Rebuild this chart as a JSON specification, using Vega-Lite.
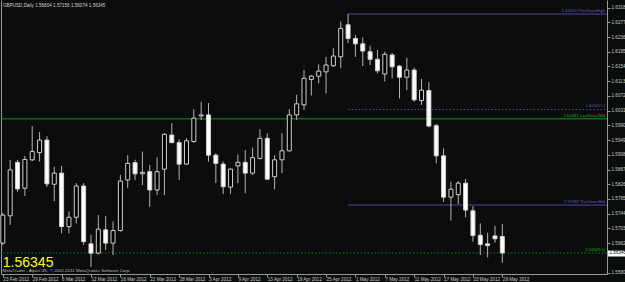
{
  "$schema": "https://vega.github.io/schema/vega-lite/v6.json",
  "width": 606,
  "height": 274,
  "autosize": {"type": "none"},
  "padding": {"left": 1, "top": 0, "right": 18, "bottom": 8},
  "background": "#0b0d0d",
  "title": {"text": "GBPUSD,Daily 1.56804 1.57156 1.56074 1.56345", "anchor": "start", "frame": "group", "orient": "top", "offset": -8, "dx": 2, "fontSize": 4.6, "fontWeight": "normal", "font": "Liberation Sans", "color": "#d0d0d0"},
  "config": {
    "view": {"stroke": null},
    "axis": {"grid": false, "labelFont": "Liberation Sans", "titleFont": "Liberation Sans", "domainColor": "#999999", "tickColor": "#999999", "labelColor": "#c8c8c8"},
    "text": {"font": "Liberation Sans"}
  },
  "datasets": {
    "candles": [
      {"date": "23 Feb 2012", "o": 1.5662, "h": 1.5746, "l": 1.5657, "c": 1.5740},
      {"date": "24 Feb 2012", "o": 1.5738, "h": 1.5894, "l": 1.5713, "c": 1.5866},
      {"date": "27 Feb 2012", "o": 1.5887, "h": 1.5894, "l": 1.5805, "c": 1.5813},
      {"date": "28 Feb 2012", "o": 1.5815, "h": 1.5905, "l": 1.5793, "c": 1.5895},
      {"date": "29 Feb 2012", "o": 1.5894, "h": 1.5988, "l": 1.5890, "c": 1.5917},
      {"date": "1 Mar 2012", "o": 1.5914, "h": 1.5971, "l": 1.5889, "c": 1.5949},
      {"date": "2 Mar 2012", "o": 1.5949, "h": 1.5960, "l": 1.5818, "c": 1.5827},
      {"date": "5 Mar 2012", "o": 1.5826, "h": 1.5875, "l": 1.5779, "c": 1.5857},
      {"date": "6 Mar 2012", "o": 1.5857, "h": 1.5877, "l": 1.5689, "c": 1.5708},
      {"date": "7 Mar 2012", "o": 1.5708, "h": 1.5750, "l": 1.5689, "c": 1.5734},
      {"date": "8 Mar 2012", "o": 1.5734, "h": 1.5829, "l": 1.5717, "c": 1.5821},
      {"date": "9 Mar 2012", "o": 1.5821, "h": 1.5829, "l": 1.5657, "c": 1.5666},
      {"date": "12 Mar 2012", "o": 1.5660, "h": 1.5685, "l": 1.5596, "c": 1.5634},
      {"date": "13 Mar 2012", "o": 1.5634, "h": 1.5740, "l": 1.5631, "c": 1.5701},
      {"date": "14 Mar 2012", "o": 1.5699, "h": 1.5738, "l": 1.5643, "c": 1.5662},
      {"date": "15 Mar 2012", "o": 1.5662, "h": 1.5722, "l": 1.5629, "c": 1.5697},
      {"date": "16 Mar 2012", "o": 1.5697, "h": 1.5852, "l": 1.5694, "c": 1.5835},
      {"date": "19 Mar 2012", "o": 1.5838, "h": 1.5907, "l": 1.5815, "c": 1.5884},
      {"date": "20 Mar 2012", "o": 1.5886, "h": 1.5894, "l": 1.5838, "c": 1.5855},
      {"date": "21 Mar 2012", "o": 1.5855, "h": 1.5917, "l": 1.5824, "c": 1.5859},
      {"date": "22 Mar 2012", "o": 1.5861, "h": 1.5880, "l": 1.5763, "c": 1.5810},
      {"date": "23 Mar 2012", "o": 1.5810, "h": 1.5901, "l": 1.5796, "c": 1.5861},
      {"date": "26 Mar 2012", "o": 1.5868, "h": 1.5968, "l": 1.5796, "c": 1.5965},
      {"date": "27 Mar 2012", "o": 1.5963, "h": 1.5996, "l": 1.5940, "c": 1.5942},
      {"date": "28 Mar 2012", "o": 1.5942, "h": 1.5951, "l": 1.5838, "c": 1.5882},
      {"date": "29 Mar 2012", "o": 1.5882, "h": 1.5954, "l": 1.5880, "c": 1.5947},
      {"date": "30 Mar 2012", "o": 1.5945, "h": 1.6035, "l": 1.5942, "c": 1.6010},
      {"date": "2 Apr 2012", "o": 1.6016, "h": 1.6056, "l": 1.6005, "c": 1.6019},
      {"date": "3 Apr 2012", "o": 1.6019, "h": 1.6052, "l": 1.5889, "c": 1.5907},
      {"date": "4 Apr 2012", "o": 1.5907, "h": 1.5912, "l": 1.5829, "c": 1.5884},
      {"date": "5 Apr 2012", "o": 1.5882, "h": 1.5889, "l": 1.5799, "c": 1.5819},
      {"date": "6 Apr 2012", "o": 1.5818, "h": 1.5870, "l": 1.5799, "c": 1.5868},
      {"date": "9 Apr 2012", "o": 1.5877, "h": 1.5909, "l": 1.5829, "c": 1.5887},
      {"date": "10 Apr 2012", "o": 1.5887, "h": 1.5921, "l": 1.5801, "c": 1.5857},
      {"date": "11 Apr 2012", "o": 1.5857, "h": 1.5928, "l": 1.5852, "c": 1.5900},
      {"date": "12 Apr 2012", "o": 1.5898, "h": 1.5979, "l": 1.5895, "c": 1.5954},
      {"date": "13 Apr 2012", "o": 1.5954, "h": 1.5968, "l": 1.5838, "c": 1.5840},
      {"date": "16 Apr 2012", "o": 1.5847, "h": 1.5907, "l": 1.5812, "c": 1.5894},
      {"date": "17 Apr 2012", "o": 1.5894, "h": 1.5968, "l": 1.5857, "c": 1.5919},
      {"date": "18 Apr 2012", "o": 1.5919, "h": 1.6035, "l": 1.5917, "c": 1.6019},
      {"date": "19 Apr 2012", "o": 1.6019, "h": 1.6075, "l": 1.6005, "c": 1.6050},
      {"date": "20 Apr 2012", "o": 1.6047, "h": 1.6144, "l": 1.6033, "c": 1.6121},
      {"date": "23 Apr 2012", "o": 1.6118, "h": 1.6130, "l": 1.6073, "c": 1.6127},
      {"date": "24 Apr 2012", "o": 1.6127, "h": 1.6160, "l": 1.6107, "c": 1.6141},
      {"date": "25 Apr 2012", "o": 1.6139, "h": 1.6181, "l": 1.6079, "c": 1.6158},
      {"date": "26 Apr 2012", "o": 1.6156, "h": 1.6205, "l": 1.6153, "c": 1.6183},
      {"date": "27 Apr 2012", "o": 1.6181, "h": 1.6279, "l": 1.6149, "c": 1.6260},
      {"date": "30 Apr 2012", "o": 1.6270, "h": 1.6300, "l": 1.6219, "c": 1.6232},
      {"date": "1 May 2012", "o": 1.6232, "h": 1.6242, "l": 1.6181, "c": 1.6217},
      {"date": "2 May 2012", "o": 1.6217, "h": 1.6235, "l": 1.6155, "c": 1.6197},
      {"date": "3 May 2012", "o": 1.6195, "h": 1.6212, "l": 1.6158, "c": 1.6174},
      {"date": "4 May 2012", "o": 1.6174, "h": 1.6200, "l": 1.6135, "c": 1.6142},
      {"date": "7 May 2012", "o": 1.6133, "h": 1.6195, "l": 1.6112, "c": 1.6188},
      {"date": "8 May 2012", "o": 1.6186, "h": 1.6191, "l": 1.6121, "c": 1.6153},
      {"date": "9 May 2012", "o": 1.6155, "h": 1.6158, "l": 1.6065, "c": 1.6124},
      {"date": "10 May 2012", "o": 1.6124, "h": 1.6178, "l": 1.6088, "c": 1.6144},
      {"date": "11 May 2012", "o": 1.6144, "h": 1.6151, "l": 1.6056, "c": 1.6061},
      {"date": "14 May 2012", "o": 1.6059, "h": 1.6119, "l": 1.6047, "c": 1.6088},
      {"date": "15 May 2012", "o": 1.6087, "h": 1.6110, "l": 1.5985, "c": 1.5988},
      {"date": "16 May 2012", "o": 1.5989, "h": 1.5994, "l": 1.5884, "c": 1.5905},
      {"date": "17 May 2012", "o": 1.5905, "h": 1.5926, "l": 1.5777, "c": 1.5790},
      {"date": "18 May 2012", "o": 1.5790, "h": 1.5833, "l": 1.5725, "c": 1.5812},
      {"date": "21 May 2012", "o": 1.5797, "h": 1.5835, "l": 1.5771, "c": 1.5829},
      {"date": "22 May 2012", "o": 1.5829, "h": 1.5841, "l": 1.5734, "c": 1.5754},
      {"date": "23 May 2012", "o": 1.5752, "h": 1.5765, "l": 1.5666, "c": 1.5683},
      {"date": "24 May 2012", "o": 1.5684, "h": 1.5717, "l": 1.5629, "c": 1.5658},
      {"date": "25 May 2012", "o": 1.5660, "h": 1.5691, "l": 1.5622, "c": 1.5655},
      {"date": "28 May 2012", "o": 1.5682, "h": 1.5710, "l": 1.5663, "c": 1.5674},
      {"date": "29 May 2012", "o": 1.56804, "h": 1.57156, "l": 1.56074, "c": 1.56345}
    ],
    "purpleSolid": [
      {"price": 1.63001, "label": "1.63001 ThisYearsHigh"},
      {"price": 1.57682, "label": "1.57682 ThisYearsMid"}
    ],
    "purpleDotted": [
      {"price": 1.60342, "label": "1.60342 Q"}
    ],
    "greenSolid": [
      {"price": 1.60081, "label": "1.60081 LastYearsMid"}
    ],
    "greenDotted": [
      {"price": 1.56345, "label": "1.56345 Q"}
    ]
  },
  "resolve": {"axis": {"y": "independent"}},
  "layer": [
    {
      "data": {"name": "purpleSolid"},
      "mark": {"type": "rule", "color": "#55479c", "strokeWidth": 1},
      "encoding": {
        "x": {"datum": "30 Apr 2012", "type": "ordinal"},
        "x2": {"value": {"expr": "width"}},
        "y": {"field": "price", "type": "quantitative", "scale": {"domain": [1.5576, 1.63391], "nice": false, "zero": false}, "axis": null}
      }
    },
    {
      "data": {"name": "purpleDotted"},
      "mark": {"type": "rule", "color": "#55479c", "strokeWidth": 1, "strokeDash": [1.5, 2]},
      "encoding": {
        "x": {"datum": "30 Apr 2012", "type": "ordinal"},
        "x2": {"value": {"expr": "width"}},
        "y": {"field": "price", "type": "quantitative", "scale": {"domain": [1.5576, 1.63391], "nice": false, "zero": false}, "axis": null}
      }
    },
    {
      "data": {"name": "greenSolid"},
      "mark": {"type": "rule", "color": "#0f9a12", "strokeWidth": 1},
      "encoding": {
        "y": {"field": "price", "type": "quantitative", "scale": {"domain": [1.5576, 1.63391], "nice": false, "zero": false}, "axis": null}
      }
    },
    {
      "data": {"name": "greenDotted"},
      "mark": {"type": "rule", "color": "#0f8a12", "strokeWidth": 1, "strokeDash": [1.5, 2]},
      "encoding": {
        "y": {"field": "price", "type": "quantitative", "scale": {"domain": [1.5576, 1.63391], "nice": false, "zero": false},
          "axis": {"orient": "right", "values": [1.56345], "format": ".5f", "title": null, "domain": false, "tickColor": "#ffffff", "tickWidth": 6, "tickSize": 18, "labelColor": "#000000", "labelPadding": -16, "labelFontSize": 4.6, "labelAlign": "left", "labelBaseline": "middle"}}
      }
    },
    {
      "data": {"name": "candles"},
      "mark": {"type": "rule", "color": "#b4b4b4", "strokeWidth": 1},
      "encoding": {
        "x": {"field": "date", "type": "ordinal", "sort": null,
          "scale": {"type": "point", "padding": 0.25, "domain": ["23 Feb 2012","24 Feb 2012","27 Feb 2012","28 Feb 2012","29 Feb 2012","1 Mar 2012","2 Mar 2012","5 Mar 2012","6 Mar 2012","7 Mar 2012","8 Mar 2012","9 Mar 2012","12 Mar 2012","13 Mar 2012","14 Mar 2012","15 Mar 2012","16 Mar 2012","19 Mar 2012","20 Mar 2012","21 Mar 2012","22 Mar 2012","23 Mar 2012","26 Mar 2012","27 Mar 2012","28 Mar 2012","29 Mar 2012","30 Mar 2012","2 Apr 2012","3 Apr 2012","4 Apr 2012","5 Apr 2012","6 Apr 2012","9 Apr 2012","10 Apr 2012","11 Apr 2012","12 Apr 2012","13 Apr 2012","16 Apr 2012","17 Apr 2012","18 Apr 2012","19 Apr 2012","20 Apr 2012","23 Apr 2012","24 Apr 2012","25 Apr 2012","26 Apr 2012","27 Apr 2012","30 Apr 2012","1 May 2012","2 May 2012","3 May 2012","4 May 2012","7 May 2012","8 May 2012","9 May 2012","10 May 2012","11 May 2012","14 May 2012","15 May 2012","16 May 2012","17 May 2012","18 May 2012","21 May 2012","22 May 2012","23 May 2012","24 May 2012","25 May 2012","28 May 2012","29 May 2012","+1","+2","+3","+4","+5","+6","+7","+8","+9","+10","+11","+12","+13","+14"]},
          "axis": {"values": ["23 Feb 2012","29 Feb 2012","6 Mar 2012","12 Mar 2012","16 Mar 2012","22 Mar 2012","28 Mar 2012","3 Apr 2012","9 Apr 2012","13 Apr 2012","19 Apr 2012","25 Apr 2012","1 May 2012","7 May 2012","11 May 2012","17 May 2012","23 May 2012","29 May 2012"],
            "labelAngle": 0, "labelAlign": "left", "labelBaseline": "top", "labelDx": 2, "labelPadding": -1, "labelFontSize": 4.6, "labelOverlap": false, "labelFlush": false, "labelBound": false, "tickSize": 3,
            "title": "MetaTrader - Alpari UK, © 2001-2011 MetaQuotes Software Corp.", "titleAnchor": "start", "titleAlign": "left", "titleBaseline": "bottom", "titleX": 1, "titleY": -2, "titleFontSize": 4.4, "titleFontWeight": "normal", "titleColor": "#b8b8b8"}},
        "y": {"field": "h", "type": "quantitative", "scale": {"domain": [1.5576, 1.63391], "nice": false, "zero": false},
          "axis": {"orient": "right", "values": [1.6318, 1.6277, 1.6236, 1.6195, 1.6154, 1.6113, 1.6072, 1.6031, 1.599, 1.5949, 1.5908, 1.5867, 1.5826, 1.5785, 1.5744, 1.5703, 1.5662, 1.558], "format": ".5f", "title": null, "tickSize": 3, "labelPadding": 1, "labelFontSize": 4.6, "labelAlign": "left"}},
        "y2": {"field": "l"}
      }
    },
    {
      "data": {"name": "candles"},
      "mark": {"type": "bar", "width": 4, "stroke": "#d0d0d0", "strokeWidth": 1},
      "encoding": {
        "x": {"field": "date", "type": "ordinal", "sort": null},
        "y": {"field": "o", "type": "quantitative", "scale": {"domain": [1.5576, 1.63391], "nice": false, "zero": false},
          "axis": {"orient": "left", "labels": false, "ticks": false, "domain": true, "title": null}},
        "y2": {"field": "c"},
        "fill": {"condition": {"test": "datum.c < datum.o", "value": "#ffffff"}, "value": "#000000"}
      }
    },
    {
      "data": {"name": "purpleSolid"},
      "mark": {"type": "text", "align": "right", "baseline": "bottom", "dy": -1, "fontSize": 4.2, "color": "#6a5cc0"},
      "encoding": {
        "x": {"datum": "+14", "type": "ordinal"},
        "y": {"field": "price", "type": "quantitative", "scale": {"domain": [1.5576, 1.63391], "nice": false, "zero": false}, "axis": null},
        "text": {"field": "label"}
      }
    },
    {
      "data": {"name": "purpleDotted"},
      "mark": {"type": "text", "align": "right", "baseline": "bottom", "dy": -1, "fontSize": 4.2, "color": "#6a5cc0"},
      "encoding": {
        "x": {"datum": "+14", "type": "ordinal"},
        "y": {"field": "price", "type": "quantitative", "scale": {"domain": [1.5576, 1.63391], "nice": false, "zero": false}, "axis": null},
        "text": {"field": "label"}
      }
    },
    {
      "data": {"name": "greenSolid"},
      "mark": {"type": "text", "align": "right", "baseline": "bottom", "dy": -1, "fontSize": 4.2, "color": "#18b018"},
      "encoding": {
        "x": {"datum": "+14", "type": "ordinal"},
        "y": {"field": "price", "type": "quantitative", "scale": {"domain": [1.5576, 1.63391], "nice": false, "zero": false}, "axis": null},
        "text": {"field": "label"}
      }
    },
    {
      "data": {"name": "greenDotted"},
      "mark": {"type": "text", "align": "right", "baseline": "bottom", "dy": -1, "fontSize": 4.2, "color": "#18b018"},
      "encoding": {
        "x": {"datum": "+14", "type": "ordinal"},
        "y": {"field": "price", "type": "quantitative", "scale": {"domain": [1.5576, 1.63391], "nice": false, "zero": false}, "axis": null},
        "text": {"field": "label"}
      }
    },
    {
      "data": {"name": "greenDotted"},
      "mark": {"type": "text", "align": "left", "baseline": "top", "dy": 3, "fontSize": 14, "color": "#ffff00"},
      "encoding": {
        "x": {"datum": "23 Feb 2012", "type": "ordinal"},
        "y": {"field": "price", "type": "quantitative", "scale": {"domain": [1.5576, 1.63391], "nice": false, "zero": false}, "axis": null},
        "text": {"field": "price", "format": ".5f"}
      }
    }
  ]
}
